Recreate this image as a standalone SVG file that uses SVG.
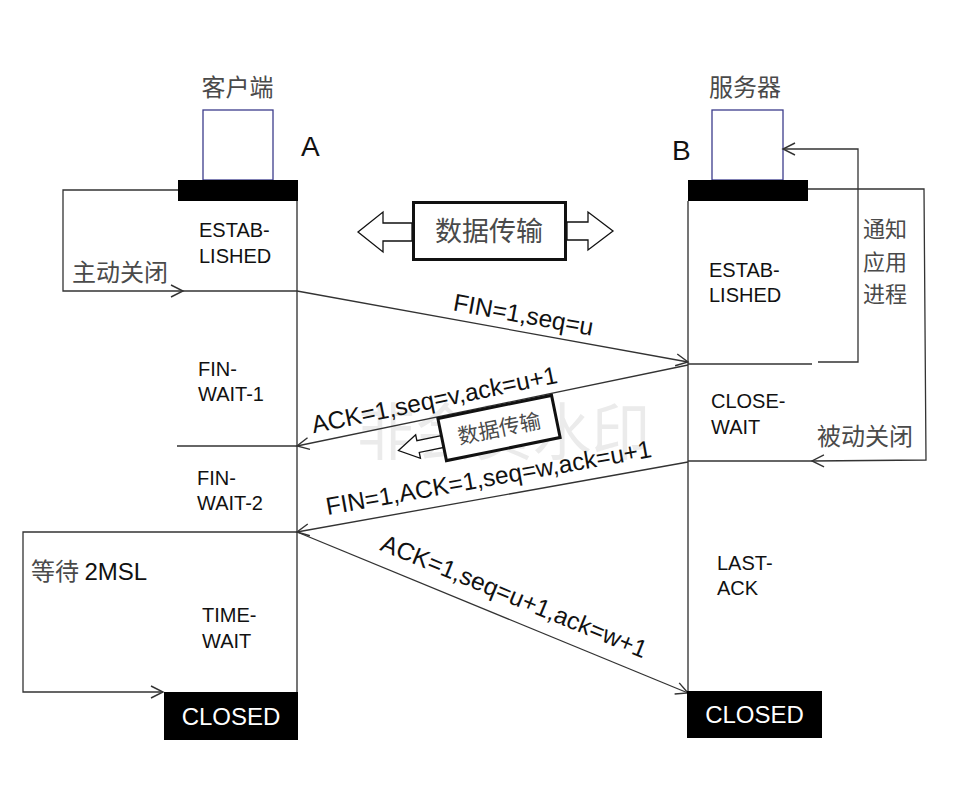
<svg xmlns="http://www.w3.org/2000/svg" width="962" height="808" viewBox="0 0 962 808">
<defs>
<style>
.lat{font-family:"Liberation Sans",Arial,sans-serif;fill:#111}
.cjk{font-family:"Noto Sans CJK SC","Noto Sans",sans-serif;fill:#4a4a4a}
.st{font-size:20px}
.msg{font-size:24.5px}
.ln{stroke:#333;stroke-width:1.3;fill:none}
.axis{stroke:#666;stroke-width:1.8;fill:none}
.ol{stroke:#111;stroke-width:1.3;fill:#fff}
</style>
<marker id="ah" markerUnits="userSpaceOnUse" markerWidth="16" markerHeight="16" viewBox="-14 -8 16 16" refX="0" refY="0" orient="auto">
<path d="M-12,-6 L0,0 L-12,6" fill="none" stroke="#333" stroke-width="1.4"/>
</marker>
</defs>
<rect width="962" height="808" fill="#fff"/>
<text class="cjk" x="357" y="455" font-size="62" textLength="293" lengthAdjust="spacingAndGlyphs" style="fill:#ebebeb">非会员水印</text>

<g id="client">
<text class="cjk" x="237.5" y="96" font-size="24" text-anchor="middle">客户端</text>
<rect x="203" y="110" width="70" height="70" fill="none" stroke="#3c3c8c" stroke-width="1.3"/>
<rect x="178" y="180" width="120" height="21" fill="#000"/>
<text class="lat" x="301" y="156" font-size="28">A</text>
</g>
<g id="server">
<text class="cjk" x="745" y="96" font-size="24" text-anchor="middle">服务器</text>
<rect x="712" y="110" width="71" height="70" fill="none" stroke="#3c3c8c" stroke-width="1.3"/>
<rect x="688" y="180" width="120" height="21" fill="#000"/>
<text class="lat" x="672" y="160" font-size="28">B</text>
</g>

<g id="connectors">
<line class="axis" x1="297" y1="201" x2="297" y2="692"/>
<line class="axis" x1="688" y1="201" x2="688" y2="691"/>
<path class="ln" d="M178,190 L63,190 L63,291 L183,291" marker-end="url(#ah)"/>
<line class="ln" x1="183" y1="291" x2="297" y2="291"/>
<line class="ln" x1="177" y1="446" x2="297" y2="446"/>
<path class="ln" d="M297,532 L23,532 L23,692 L163,692" marker-end="url(#ah)"/>
<line class="ln" x1="688" y1="364" x2="812" y2="364"/>
<path class="ln" d="M818,362 L858,362 L858,149 L783,149" marker-end="url(#ah)"/>
<path class="ln" d="M808,189 L924,189 L926,460 L812,461" marker-end="url(#ah)"/>
<line class="ln" x1="812" y1="461" x2="688" y2="461"/>
<line class="ln" x1="297" y1="291" x2="688" y2="362" marker-end="url(#ah)"/>
<line class="ln" x1="688" y1="365" x2="297" y2="446" marker-end="url(#ah)"/>
<line class="ln" x1="688" y1="462" x2="297" y2="532" marker-end="url(#ah)"/>
<line class="ln" x1="297" y1="532" x2="688" y2="693" marker-end="url(#ah)"/>
</g>

<g id="data-transfer">
<polygon class="ol" points="412,223 383,223 383,212 358,232 383,252 383,241 412,241"/>
<polygon class="ol" points="567,222 588,222 588,212 613,231 588,250 588,240 567,240"/>
<rect x="413.5" y="202.5" width="152" height="57" fill="#fff" stroke="#111" stroke-width="3"/>
<text class="cjk" x="489" y="241" font-size="27" text-anchor="middle">数据传输</text>
</g>

<g id="data-transfer-small" transform="translate(499,428) rotate(-11.5)">
<polygon class="ol" points="-58,-4 -83,-4 -83,-10 -103,2 -83,14 -83,8 -58,8"/>
<rect x="-58" y="-21.5" width="116" height="43" fill="#fff" stroke="#111" stroke-width="3"/>
<text class="cjk" x="0" y="8" font-size="21" text-anchor="middle">数据传输</text>
</g>

<g id="msg-labels">
<text class="lat msg" transform="translate(522,323) rotate(10.3)" text-anchor="middle">FIN=1,seq=u</text>
<text class="lat msg" transform="translate(436,408) rotate(-11.7)" text-anchor="middle">ACK=1,seq=v,ack=u+1</text>
<text class="lat msg" transform="translate(490,486) rotate(-10.15)" text-anchor="middle">FIN=1,ACK=1,seq=w,ack=u+1</text>
<text class="lat msg" transform="translate(511,604) rotate(22.4)" text-anchor="middle">ACK=1,seq=u+1,ack=w+1</text>
</g>

<g id="client-states">
<text class="lat st" x="199" y="237">ESTAB-</text>
<text class="lat st" x="199" y="263">LISHED</text>
<text class="lat st" x="198" y="376">FIN-</text>
<text class="lat st" x="198" y="401">WAIT-1</text>
<text class="lat st" x="197" y="485">FIN-</text>
<text class="lat st" x="197" y="510">WAIT-2</text>
<text class="lat st" x="202" y="622">TIME-</text>
<text class="lat st" x="202" y="648">WAIT</text>
<text class="cjk" x="72" y="281" font-size="24">主动关闭</text>
<text x="31" y="580" font-size="24"><tspan class="cjk">等待 </tspan><tspan class="lat">2MSL</tspan></text>
</g>
<g id="server-states">
<text class="lat st" x="709" y="277">ESTAB-</text>
<text class="lat st" x="709" y="302">LISHED</text>
<text class="lat st" x="711" y="408">CLOSE-</text>
<text class="lat st" x="711" y="434">WAIT</text>
<text class="lat st" x="717" y="570">LAST-</text>
<text class="lat st" x="717" y="595">ACK</text>
<text class="cjk" font-size="22"><tspan x="863" y="237">通知</tspan><tspan x="863" y="269.5">应用</tspan><tspan x="863" y="302">进程</tspan></text>
<text class="cjk" x="817" y="445" font-size="24">被动关闭</text>
</g>

<g id="client-closed">
<rect x="164" y="692" width="134" height="48" fill="#000"/>
<text class="lat" x="231" y="725" font-size="24" text-anchor="middle" style="fill:#fff">CLOSED</text>
</g>
<g id="server-closed">
<rect x="687" y="691" width="135" height="47" fill="#000"/>
<text class="lat" x="754.5" y="723" font-size="24" text-anchor="middle" style="fill:#fff">CLOSED</text>
</g>
</svg>
